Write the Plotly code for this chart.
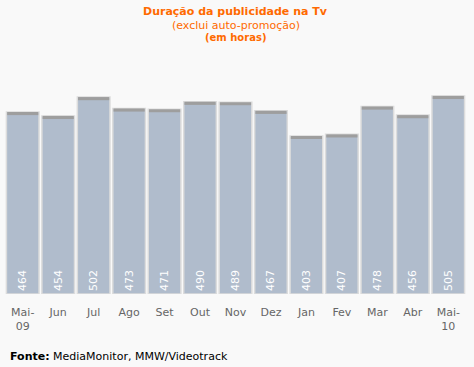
import plotly.graph_objects as go

months = ["Mai-<br>09", "Jun", "Jul", "Ago", "Set", "Out", "Nov", "Dez", "Jan", "Fev", "Mar", "Abr", "Mai-<br>10"]
hours = [464, 454, 502, 473, 471, 490, 489, 467, 403, 407, 478, 456, 505]
cap = 8
cap_base = [v - cap for v in hours]

font = "DejaVu Sans, Verdana, sans-serif"

fig = go.Figure()
fig.add_trace(go.Bar(
    x=months, y=hours,
    marker=dict(color="#b0bccc", line=dict(color="#dcdcdc", width=1.5)),
    width=0.92,
    text=[str(v) for v in hours],
    textposition="inside", textangle=-90, insidetextanchor="start",
    textfont=dict(color="white", size=11, family=font),
    hoverinfo="skip",
))
fig.add_trace(go.Bar(
    x=months, y=[cap] * len(hours), base=cap_base,
    marker=dict(color="#9e9e9e", line=dict(width=0)),
    width=0.88, hoverinfo="skip",
))

fig.update_layout(
    width=474, height=367,
    barmode="overlay", showlegend=False,
    paper_bgcolor="#f9f9f9", plot_bgcolor="#f9f9f9",
    margin=dict(l=5, r=8, t=50, b=73),
    font=dict(family=font, size=11, color="#666666"),
    xaxis=dict(showgrid=False, zeroline=False, showline=False, ticks="",
               ticklabelstandoff=10,
               tickfont=dict(size=11, color="#666666")),
    yaxis=dict(visible=False, range=[0, 622]),
    annotations=[
        dict(text="<b>Duração da publicidade na Tv</b>", x=0.5, xref="paper", y=1, yref="paper",
             yanchor="middle", yshift=50 - 11, showarrow=False,
             font=dict(size=11, color="#ff6a00")),
        dict(text="(exclui auto-promoção)", x=0.5, xref="paper", y=1, yref="paper",
             yanchor="middle", yshift=50 - 25, showarrow=False,
             font=dict(size=11, color="#ff6a00")),
        dict(text="<b>(em horas)</b>", x=0.5, xref="paper", y=1, yref="paper",
             yanchor="middle", yshift=50 - 37, showarrow=False,
             font=dict(size=10, color="#ff6a00")),
        dict(text="<b>Fonte:</b> MediaMonitor, MMW/Videotrack", x=0, xref="paper", xanchor="left",
             xshift=3, y=0, yref="paper", yanchor="middle", yshift=-(356 - 294),
             showarrow=False, font=dict(size=11, color="#000000")),
    ],
)

fig.write_html("out.html", config={"displayModeBar": False},
               post_script="document.body.style.margin='0';")
